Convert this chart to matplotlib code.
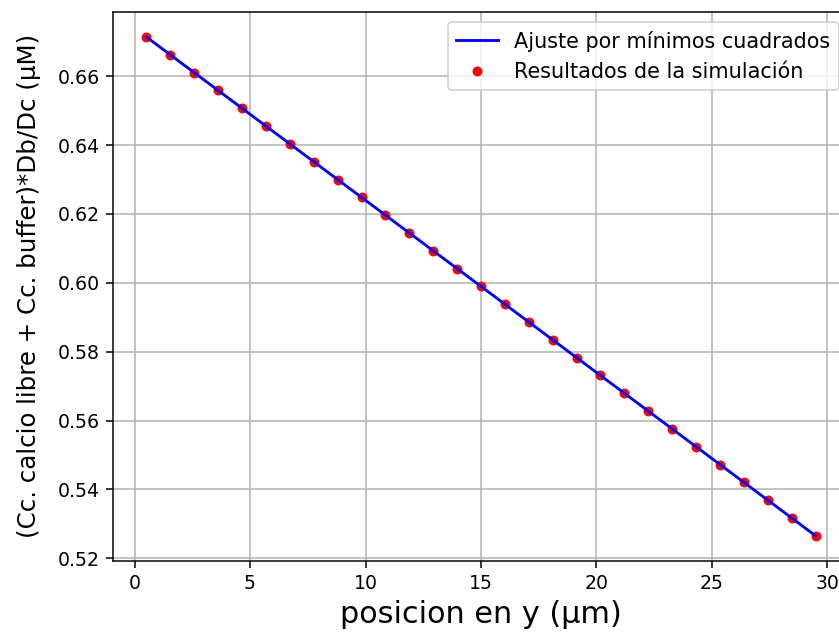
import numpy as np
import matplotlib
matplotlib.use("Agg")
import matplotlib.pyplot as plt

# posiciones (centros de celda) en um
y_pos = [0.517, 1.552, 2.586, 3.621, 4.655, 5.690, 6.724, 7.759, 8.793, 9.828,
         10.862, 11.897, 12.931, 13.966, 15.000, 16.034, 17.069, 18.103, 19.138,
         20.172, 21.207, 22.241, 23.276, 24.310, 25.345, 26.379, 27.414, 28.448,
         29.483]
# resultados de la simulacion
conc = [0.6714, 0.6662, 0.6610, 0.6559, 0.6507, 0.6455, 0.6403, 0.6352, 0.6300,
        0.6248, 0.6196, 0.6145, 0.6093, 0.6041, 0.5990, 0.5938, 0.5886, 0.5834,
        0.5783, 0.5731, 0.5679, 0.5628, 0.5576, 0.5524, 0.5472, 0.5421, 0.5369,
        0.5317, 0.5266]

x = np.array(y_pos)
c = np.array(conc)

# ajuste lineal por minimos cuadrados
m, b = np.polyfit(x, c, 1)
fit = m * x + b

dpi = 136
fig = plt.figure(figsize=(839 / dpi, 636 / dpi), dpi=dpi)
ax = fig.add_axes([113 / 839, 1 - 560.7 / 636, 736 / 839, 548.7 / 636])
ax.plot(x, fit, "b", label="Ajuste por mínimos cuadrados", zorder=3)
ax.plot(x, c, "r.", ms=8.5, label="Resultados de la simulación", zorder=2)
ax.grid(True)
ax.set_xlabel("posicion en y (µm)", fontsize=16)
ax.set_ylabel("(Cc. calcio libre + Cc. buffer)*Db/Dc (µM)", fontsize=13, labelpad=8.5)
ax.legend(fontsize=11)
fig.savefig("out.png", dpi=dpi)
